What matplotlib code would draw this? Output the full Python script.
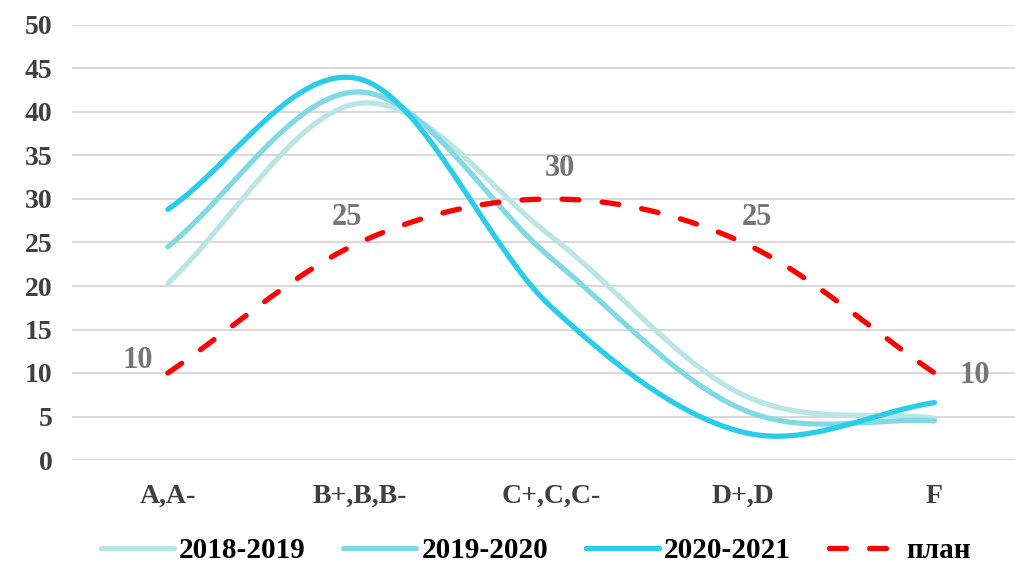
import numpy as np
import matplotlib.pyplot as plt

# Данные
categories = ['A,A-', 'B+,B,B-', 'C+,C,C-', 'D+,D', 'F']
y2018 = [20.3, 41.0, 25.7, 7.5, 4.8]
y2019 = [24.5, 42.3, 23.2, 5.8, 4.5]
y2020 = [28.8, 43.8, 17.6, 3.2, 6.6]
plan = [10, 25, 30, 25, 10]

series_names = ['2018-2019', '2019-2020', '2020-2021', 'план']
colors = ['#b9e5e5', '#82d9e5', '#2accea', '#ff0000']

plt.rcParams['font.family'] = ['Liberation Serif', 'DejaVu Serif']
plt.rcParams['font.weight'] = 'bold'


def smooth(vals, n=40):
    # сглаживание как в Excel (Catmull-Rom)
    p = np.asarray(vals, dtype=float)
    m = np.zeros_like(p)
    m[1:-1] = (p[2:] - p[:-2]) / 2
    m[0] = p[1] - p[0]
    m[-1] = p[-1] - p[-2]
    xs, ys = [], []
    t = np.linspace(0, 1, n)
    h00 = 2 * t**3 - 3 * t**2 + 1
    h10 = t**3 - 2 * t**2 + t
    h01 = -2 * t**3 + 3 * t**2
    h11 = t**3 - t**2
    for i in range(len(p) - 1):
        xs.append(i + t)
        ys.append(h00 * p[i] + h10 * m[i] + h01 * p[i + 1] + h11 * m[i + 1])
    return np.concatenate(xs), np.concatenate(ys)


fig = plt.figure(figsize=(10.15, 5.64), dpi=100)
ax = fig.add_axes([72 / 1015, 104 / 564, 943 / 1015, 435 / 564])

for vals, name, col in zip([y2018, y2019, y2020], series_names[:3], colors[:3]):
    sx, sy = smooth(vals)
    ax.plot(sx, sy, color=col, lw=3.8, solid_capstyle='round', label=name)

sx, sy = smooth(plan)
ax.plot(sx, sy, color=colors[3], lw=3.8, dashes=(3.2, 4.4), dash_capstyle='round',
        label=series_names[3])

# подписи плана
label_offsets = [(-22, 9), (-9, 18), (6, 22), (10, 18), (29, -1.5)]
for i, v in enumerate(plan):
    ax.annotate(str(v), (i, v), xytext=label_offsets[i], textcoords='offset points',
                ha='center', va='center', fontsize=22, color='#767676', fontweight='bold')

ax.set_ylim(0, 50)
ax.set_xlim(-0.5, 4.42)
ax.set_yticks(range(0, 51, 5))
ax.set_xticks(range(len(categories)))
ax.set_xticklabels(categories)
ax.tick_params(length=0, labelsize=20, colors='#404040')
ax.tick_params(axis='x', pad=17)
ax.tick_params(axis='y', pad=14)
ax.grid(axis='y', color='#d9d9d9', lw=1.5)
ax.set_axisbelow(True)
for s in ax.spines.values():
    s.set_visible(False)

fig.legend(loc='center', bbox_to_anchor=(536 / 1015, 1 - 551 / 564), ncol=4, frameon=False,
           fontsize=21, handlelength=2.5, handletextpad=0.17, columnspacing=1.3,
           borderaxespad=0, borderpad=0)

fig.savefig('out.png', dpi=100)
